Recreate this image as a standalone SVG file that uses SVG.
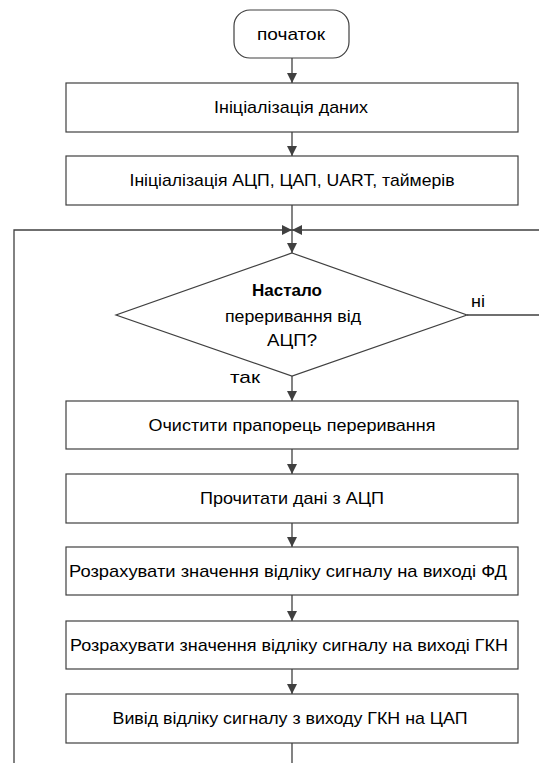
<svg xmlns="http://www.w3.org/2000/svg" width="539" height="763" viewBox="0 0 539 763">
<style>
.box{fill:#fff;stroke:#404040;stroke-width:1.2}
.ln{fill:none;stroke:#404040;stroke-width:1.3}
text{font-family:"Liberation Sans",Arial,sans-serif;font-size:17px;fill:#000;text-anchor:middle}
</style>
<defs>
<marker id="ah" viewBox="0 0 10 10" refX="10" refY="5" markerWidth="10" markerHeight="10" markerUnits="userSpaceOnUse" orient="auto">
<path d="M0,0 L10,5 L0,10 Z" fill="#404040"/>
</marker>
</defs>
<g id="connectors">
<line class="ln" x1="292" y1="58" x2="292" y2="83" marker-end="url(#ah)"/>
<line class="ln" x1="292" y1="132" x2="292" y2="156" marker-end="url(#ah)"/>
<line class="ln" x1="292" y1="205" x2="292" y2="253" marker-end="url(#ah)"/>
<polyline class="ln" points="14,763 14,230 292,230" marker-end="url(#ah)"/>
<polyline class="ln" points="467,315 541,315 541,230 292,230" marker-end="url(#ah)"/>
<line class="ln" x1="292" y1="376" x2="292" y2="401" marker-end="url(#ah)"/>
<line class="ln" x1="292" y1="449" x2="292" y2="474" marker-end="url(#ah)"/>
<line class="ln" x1="292" y1="523" x2="292" y2="547" marker-end="url(#ah)"/>
<line class="ln" x1="292" y1="595" x2="292" y2="621" marker-end="url(#ah)"/>
<line class="ln" x1="292" y1="669" x2="292" y2="694" marker-end="url(#ah)"/>
<line class="ln" x1="292" y1="743" x2="292" y2="763"/>
<text x="478" y="307" textLength="14" lengthAdjust="spacingAndGlyphs">ні</text>
<text x="245" y="383" textLength="30" lengthAdjust="spacingAndGlyphs">так</text>
</g>
<g id="start">
<rect class="box" x="234" y="10" width="115" height="48" rx="16"/>
<text x="291" y="40" textLength="68" lengthAdjust="spacingAndGlyphs">початок</text>
</g>
<g id="init-data">
<rect class="box" x="66" y="83" width="452" height="49"/>
<text x="291" y="113" textLength="154" lengthAdjust="spacingAndGlyphs">Ініціалізація даних</text>
</g>
<g id="init-periph">
<rect class="box" x="66" y="156" width="452" height="49"/>
<text x="292" y="186" textLength="325" lengthAdjust="spacingAndGlyphs">Ініціалізація АЦП, ЦАП, UART, таймерів</text>
</g>
<g id="decision">
<polygon class="box" points="292,253 467,315 292,376 116,315"/>
<text x="287" y="296" font-weight="bold" textLength="70" lengthAdjust="spacingAndGlyphs">Настало</text>
<text x="293" y="322" textLength="136" lengthAdjust="spacingAndGlyphs">переривання від</text>
<text x="292" y="346" textLength="50" lengthAdjust="spacingAndGlyphs">АЦП?</text>
</g>
<g id="clear-flag">
<rect class="box" x="66" y="401" width="452" height="48"/>
<text x="292" y="431" textLength="287" lengthAdjust="spacingAndGlyphs">Очистити прапорець переривання</text>
</g>
<g id="read-adc">
<rect class="box" x="66" y="474" width="452" height="49"/>
<text x="292" y="504" textLength="184" lengthAdjust="spacingAndGlyphs">Прочитати дані з АЦП</text>
</g>
<g id="calc-fd">
<rect class="box" x="66" y="547" width="452" height="48"/>
<text x="288" y="577" textLength="438" lengthAdjust="spacingAndGlyphs">Розрахувати значення відліку сигналу на виході ФД</text>
</g>
<g id="calc-gkn">
<rect class="box" x="66" y="621" width="452" height="48"/>
<text x="289" y="651" textLength="438" lengthAdjust="spacingAndGlyphs">Розрахувати значення відліку сигналу на виході ГКН</text>
</g>
<g id="output-dac">
<rect class="box" x="66" y="694" width="452" height="49"/>
<text x="290" y="724" textLength="355" lengthAdjust="spacingAndGlyphs">Вивід відліку сигналу з виходу ГКН на ЦАП</text>
</g>
</svg>
